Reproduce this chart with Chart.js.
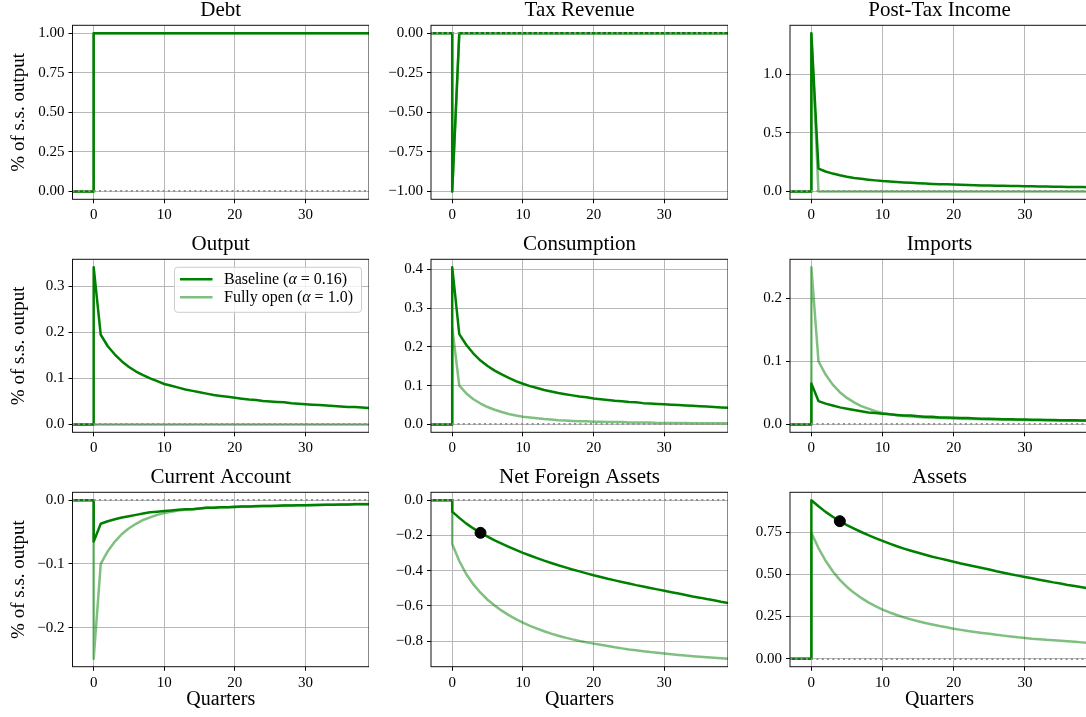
<!DOCTYPE html>
<html>
<head>
<meta charset="utf-8">
<script src="https://cdn.jsdelivr.net/npm/chart.js@4.4.0/dist/chart.umd.min.js"></script>
<style>
  html, body { margin: 0; padding: 0; background: #fff; overflow: hidden; width: 1086px; height: 717px; }
  .panel { position: absolute; }
</style>
</head>
<body>
<div id="fig"></div>
<script>
// ========================= Data =========================
const preQuarters = [-3, -2, -1, 0];
const quarters = [
  0, 1, 2, 3, 4, 5, 6, 7, 8, 9,
  10, 11, 12, 13, 14, 15, 16, 17, 18, 19,
  20, 21, 22, 23, 24, 25, 26, 27, 28, 29,
  30, 31, 32, 33, 34, 35, 36, 37, 38, 39
];
const xTickLabels = ['0', '10', '20', '30'];
const seriesNames = ['Baseline', 'Fully open'];
const seriesAlpha = ['0.16', '1.0'];
const markerQuarter = 4;

const debtBaseline = [
  1, 1, 1, 1, 1, 1, 1, 1, 1, 1,
  1, 1, 1, 1, 1, 1, 1, 1, 1, 1,
  1, 1, 1, 1, 1, 1, 1, 1, 1, 1,
  1, 1, 1, 1, 1, 1, 1, 1, 1, 1
];
const debtOpen = [
  1, 1, 1, 1, 1, 1, 1, 1, 1, 1,
  1, 1, 1, 1, 1, 1, 1, 1, 1, 1,
  1, 1, 1, 1, 1, 1, 1, 1, 1, 1,
  1, 1, 1, 1, 1, 1, 1, 1, 1, 1
];
const taxBaseline = [
  -1, 0, 0, 0, 0, 0, 0, 0, 0, 0,
  0, 0, 0, 0, 0, 0, 0, 0, 0, 0,
  0, 0, 0, 0, 0, 0, 0, 0, 0, 0,
  0, 0, 0, 0, 0, 0, 0, 0, 0, 0
];
const taxOpen = [
  -1, 0, 0, 0, 0, 0, 0, 0, 0, 0,
  0, 0, 0, 0, 0, 0, 0, 0, 0, 0,
  0, 0, 0, 0, 0, 0, 0, 0, 0, 0,
  0, 0, 0, 0, 0, 0, 0, 0, 0, 0
];
const postTaxBaseline = [
  1.35, 0.195, 0.170, 0.152, 0.137, 0.125, 0.115, 0.107, 0.100, 0.094,
  0.088, 0.084, 0.080, 0.076, 0.073, 0.070, 0.067, 0.064, 0.062, 0.060,
  0.058, 0.056, 0.054, 0.053, 0.051, 0.050, 0.049, 0.048, 0.046, 0.045,
  0.044, 0.043, 0.042, 0.041, 0.040, 0.039, 0.038, 0.038, 0.037, 0.036
];
const postTaxOpen = [
  1.35, 0, 0, 0, 0, 0, 0, 0, 0, 0,
  0, 0, 0, 0, 0, 0, 0, 0, 0, 0,
  0, 0, 0, 0, 0, 0, 0, 0, 0, 0,
  0, 0, 0, 0, 0, 0, 0, 0, 0, 0
];
const outputBaseline = [
  0.342, 0.195, 0.170, 0.152, 0.137, 0.125, 0.115, 0.107, 0.100, 0.094,
  0.088, 0.084, 0.080, 0.076, 0.073, 0.070, 0.067, 0.064, 0.062, 0.060,
  0.058, 0.056, 0.054, 0.053, 0.051, 0.050, 0.049, 0.048, 0.046, 0.045,
  0.044, 0.043, 0.042, 0.041, 0.040, 0.039, 0.038, 0.038, 0.037, 0.036
];
const outputOpen = [
  0, 0, 0, 0, 0, 0, 0, 0, 0, 0,
  0, 0, 0, 0, 0, 0, 0, 0, 0, 0,
  0, 0, 0, 0, 0, 0, 0, 0, 0, 0,
  0, 0, 0, 0, 0, 0, 0, 0, 0, 0
];
const consBaseline = [
  0.406, 0.233, 0.205, 0.183, 0.165, 0.151, 0.139, 0.129, 0.120, 0.112,
  0.105, 0.099, 0.094, 0.089, 0.085, 0.081, 0.078, 0.075, 0.072, 0.070,
  0.067, 0.065, 0.063, 0.061, 0.060, 0.058, 0.057, 0.055, 0.054, 0.053,
  0.052, 0.051, 0.050, 0.049, 0.048, 0.047, 0.046, 0.045, 0.044, 0.043
];
const consOpen = [
  0.250, 0.100, 0.080, 0.065, 0.054, 0.045, 0.038, 0.032, 0.027, 0.023,
  0.020, 0.018, 0.016, 0.014, 0.013, 0.011, 0.010, 0.009, 0.008, 0.008,
  0.007, 0.007, 0.006, 0.006, 0.006, 0.005, 0.005, 0.005, 0.005, 0.004,
  0.004, 0.004, 0.004, 0.004, 0.003, 0.003, 0.003, 0.003, 0.003, 0.003
];
const importsBaseline = [
  0.065, 0.037, 0.033, 0.030, 0.027, 0.025, 0.023, 0.021, 0.019, 0.018,
  0.017, 0.016, 0.015, 0.014, 0.014, 0.013, 0.012, 0.012, 0.011, 0.011,
  0.0105, 0.010, 0.010, 0.0095, 0.009, 0.009, 0.0087, 0.0084, 0.0082, 0.008,
  0.0078, 0.0076, 0.0074, 0.0072, 0.007, 0.0068, 0.0066, 0.0065, 0.0063, 0.0062
];
const importsOpen = [
  0.249, 0.100, 0.079, 0.063, 0.051, 0.042, 0.035, 0.029, 0.025, 0.021,
  0.018, 0.016, 0.0145, 0.0135, 0.0125, 0.0117, 0.011, 0.0105, 0.010, 0.0097,
  0.0094, 0.0091, 0.0088, 0.0085, 0.0082, 0.008, 0.0078, 0.0076, 0.0074, 0.0072,
  0.007, 0.0068, 0.0066, 0.0065, 0.0063, 0.0062, 0.006, 0.0059, 0.0058, 0.0057
];
const caBaseline = [
  -0.065, -0.037, -0.033, -0.030, -0.027, -0.025, -0.023, -0.021, -0.019, -0.018,
  -0.017, -0.016, -0.015, -0.014, -0.014, -0.013, -0.012, -0.012, -0.011, -0.011,
  -0.0105, -0.010, -0.010, -0.0095, -0.009, -0.009, -0.0087, -0.0084, -0.0082, -0.008,
  -0.0078, -0.0076, -0.0074, -0.0072, -0.007, -0.0068, -0.0066, -0.0065, -0.0063, -0.0062
];
const caOpen = [
  -0.249, -0.100, -0.080, -0.065, -0.053, -0.044, -0.037, -0.031, -0.027, -0.023,
  -0.020, -0.018, -0.016, -0.015, -0.014, -0.013, -0.012, -0.012, -0.011, -0.011,
  -0.010, -0.010, -0.010, -0.009, -0.009, -0.009, -0.009, -0.008, -0.008, -0.008,
  -0.008, -0.008, -0.007, -0.007, -0.007, -0.007, -0.007, -0.006, -0.006, -0.006
];
const nfaBaseline = [
  -0.065, -0.100, -0.133, -0.160, -0.185, -0.207, -0.228, -0.247, -0.265, -0.282,
  -0.299, -0.314, -0.329, -0.343, -0.356, -0.369, -0.381, -0.393, -0.404, -0.415,
  -0.426, -0.436, -0.446, -0.455, -0.464, -0.473, -0.482, -0.490, -0.498, -0.506,
  -0.514, -0.522, -0.530, -0.538, -0.546, -0.553, -0.561, -0.568, -0.576, -0.583
];
const nfaOpen = [
  -0.248, -0.345, -0.420, -0.478, -0.525, -0.565, -0.598, -0.627, -0.652, -0.675,
  -0.695, -0.713, -0.729, -0.744, -0.757, -0.769, -0.780, -0.790, -0.799, -0.807,
  -0.814, -0.821, -0.828, -0.835, -0.841, -0.847, -0.852, -0.857, -0.862, -0.866,
  -0.870, -0.874, -0.878, -0.882, -0.885, -0.888, -0.891, -0.894, -0.897, -0.900
];
const assetsBaseline = [
  0.938, 0.902, 0.869, 0.840, 0.814, 0.791, 0.770, 0.750, 0.731, 0.714,
  0.697, 0.681, 0.666, 0.652, 0.639, 0.627, 0.615, 0.604, 0.594, 0.584,
  0.574, 0.564, 0.555, 0.546, 0.537, 0.528, 0.518, 0.509, 0.500, 0.492,
  0.484, 0.476, 0.468, 0.460, 0.452, 0.445, 0.437, 0.430, 0.423, 0.416
];
const assetsOpen = [
  0.745, 0.655, 0.580, 0.518, 0.467, 0.425, 0.390, 0.360, 0.334, 0.311,
  0.291, 0.274, 0.259, 0.245, 0.233, 0.222, 0.212, 0.203, 0.194, 0.186,
  0.178, 0.171, 0.164, 0.158, 0.153, 0.148, 0.142, 0.137, 0.132, 0.127,
  0.123, 0.119, 0.116, 0.112, 0.109, 0.106, 0.103, 0.100, 0.097, 0.094
];

// y tick labels per panel
const debtTicks = ['0.00', '0.25', '0.50', '0.75', '1.00'];
const taxTicks = ['\u22121.00', '\u22120.75', '\u22120.50', '\u22120.25', '0.00'];
const postTaxTicks = ['0.0', '0.5', '1.0'];
const outputTicks = ['0.0', '0.1', '0.2', '0.3'];
const consTicks = ['0.0', '0.1', '0.2', '0.3', '0.4'];
const importsTicks = ['0.0', '0.1', '0.2'];
const caTicks = ['\u22120.2', '\u22120.1', '0.0'];
const nfaTicks = ['\u22120.8', '\u22120.6', '\u22120.4', '\u22120.2', '0.0'];
const assetsTicks = ['0.00', '0.25', '0.50', '0.75'];

const panels = [
  { title: 'Debt', base: debtBaseline, open: debtOpen, ticks: debtTicks },
  { title: 'Tax Revenue', base: taxBaseline, open: taxOpen, ticks: taxTicks },
  { title: 'Post-Tax Income', base: postTaxBaseline, open: postTaxOpen, ticks: postTaxTicks },
  { title: 'Output', base: outputBaseline, open: outputOpen, ticks: outputTicks, legend: true },
  { title: 'Consumption', base: consBaseline, open: consOpen, ticks: consTicks },
  { title: 'Imports', base: importsBaseline, open: importsOpen, ticks: importsTicks },
  { title: 'Current Account', base: caBaseline, open: caOpen, ticks: caTicks },
  { title: 'Net Foreign Assets', base: nfaBaseline, open: nfaOpen, ticks: nfaTicks, marker: true },
  { title: 'Assets', base: assetsBaseline, open: assetsOpen, ticks: assetsTicks, marker: true }
];

// ========================= Layout / style =========================
const SERIF = '"Liberation Serif", "DejaVu Serif", serif';
Chart.defaults.font.family = SERIF;
Chart.defaults.color = '#000';

const colLeft = [0, 380, 740];
const plotLeft = [72.5, 431, 790];
const plotRight = [369, 728, 1089];
const plotTop = [25.3, 259.3, 492.3];
const plotBottom = [199.3, 432.3, 666.7];

const baseColor = '#008000';
const openColor = 'rgba(0,128,0,0.5)';
const gridColor = '#b8b8b8';

const toNum = s => parseFloat(s.replace('\u2212', '-'));

function series(values) {
  const pre = preQuarters.map(q => ({ x: q, y: 0 }));
  return pre.concat(quarters.map((q, i) => ({ x: q, y: values[i] })));
}

// frame + dotted zero line
const frameAndZero = {
  id: 'frameAndZero',
  afterDatasetsDraw(chart) {
    const { ctx, chartArea: a, scales: { y } } = chart;
    const y0 = Math.round(y.getPixelForValue(0));
    ctx.save();
    ctx.beginPath();
    ctx.rect(a.left, a.top, a.right - a.left, a.bottom - a.top);
    ctx.clip();
    ctx.strokeStyle = '#8f8f8f';
    ctx.lineWidth = 2;
    ctx.setLineDash([2, 3.3]);
    ctx.beginPath();
    ctx.moveTo(a.left, y0);
    ctx.lineTo(a.right, y0);
    ctx.stroke();
    ctx.restore();
    ctx.save();
    ctx.strokeStyle = '#111';
    ctx.lineWidth = 1;
    ctx.strokeRect(a.left, a.top, a.right - a.left, a.bottom - a.top);
    ctx.restore();
  }
};

// legend box inside the Output panel
const legendBox = {
  id: 'legendBox',
  afterDraw(chart, args, opts) {
    if (!opts.show) return;
    const { ctx, chartArea: a } = chart;
    const w = 187, h = 45, r = 3;
    const x0 = a.right - 7.5 - w, y0 = a.top + 8;
    ctx.save();
    ctx.beginPath();
    ctx.moveTo(x0 + r, y0);
    ctx.arcTo(x0 + w, y0, x0 + w, y0 + h, r);
    ctx.arcTo(x0 + w, y0 + h, x0, y0 + h, r);
    ctx.arcTo(x0, y0 + h, x0, y0, r);
    ctx.arcTo(x0, y0, x0 + w, y0, r);
    ctx.closePath();
    ctx.fillStyle = 'rgba(255,255,255,0.8)';
    ctx.fill();
    ctx.strokeStyle = '#cccccc';
    ctx.lineWidth = 1;
    ctx.stroke();
    seriesNames.forEach((name, i) => {
      const ds = chart.data.datasets[i];
      const yy = y0 + 12 + i * 18;
      ctx.strokeStyle = ds.borderColor;
      ctx.lineWidth = ds.borderWidth;
      ctx.beginPath();
      ctx.moveTo(x0 + 5.5, yy);
      ctx.lineTo(x0 + 38, yy);
      ctx.stroke();
      ctx.fillStyle = '#000';
      ctx.textBaseline = 'middle';
      let tx = x0 + 49.5;
      const parts = [
        [name + ' (', 'normal'],
        ['\u03b1', 'italic'],
        [' = ' + seriesAlpha[i] + ')', 'normal']
      ];
      parts.forEach(([t, style]) => {
        ctx.font = style + ' 16px ' + SERIF;
        ctx.fillText(t, tx, yy);
        tx += ctx.measureText(t).width;
      });
    });
    ctx.restore();
  }
};

// ========================= Render =========================
function renderPanel(p, idx) {
  const r = Math.floor(idx / 3), c = idx % 3;
  const last = r === 2;
  const top = Math.round(plotTop[r] - 27);
  const left = colLeft[c];
  const width = Math.round(plotRight[c] - left);
  const xAxisH = last ? 50 : 30;
  const height = Math.round(plotBottom[r] - top + xAxisH);
  const xh = height - (plotBottom[r] - top);
  const yw = plotLeft[c] - left;
  const titlePadBottom = plotTop[r] - top - 25.2;

  const allVals = [0].concat(p.base, p.open);
  const lo = Math.min(...allVals), hi = Math.max(...allVals);
  const pad = 0.05 * (hi - lo);
  const yTickVals = p.ticks.map(toNum);
  const xTickVals = xTickLabels.map(toNum);

  const div = document.createElement('div');
  div.className = 'panel';
  div.style.left = left + 'px';
  div.style.top = top + 'px';
  div.style.width = width + 'px';
  div.style.height = height + 'px';
  const canvas = document.createElement('canvas');
  div.appendChild(canvas);
  document.getElementById('fig').appendChild(div);

  const datasets = [
    { label: seriesNames[0], data: series(p.base), borderColor: baseColor, borderWidth: 2.5,
      pointRadius: 0, borderJoinStyle: 'round', order: 2 },
    { label: seriesNames[1], data: series(p.open), borderColor: openColor, borderWidth: 2.5,
      pointRadius: 0, borderJoinStyle: 'round', order: 1 }
  ];
  if (p.marker) {
    const k = quarters.indexOf(markerQuarter);
    datasets.push({ label: 'marker', data: [{ x: markerQuarter, y: p.base[k] }], showLine: false,
      pointRadius: 5.5, pointBackgroundColor: '#000', pointBorderColor: '#000', order: 0 });
  }

  const gridOpts = { color: gridColor, lineWidth: 1, drawTicks: true, tickLength: 4, tickColor: '#000', tickWidth: 1 };

  new Chart(canvas.getContext('2d'), {
    type: 'line',
    data: { datasets },
    options: {
      responsive: true,
      maintainAspectRatio: false,
      animation: false,
      layout: { padding: 0, autoPadding: false },
      plugins: {
        legend: { display: false },
        tooltip: { enabled: false },
        title: { display: true, text: p.title, fullSize: false, color: '#000',
                 font: { size: 21, weight: 'normal' }, padding: { top: 0, bottom: titlePadBottom } },
        legendBox: { show: !!p.legend }
      },
      scales: {
        x: {
          type: 'linear', min: -3, max: 39,
          afterBuildTicks: s => { s.ticks = xTickVals.map(v => ({ value: v })); },
          afterFit: s => { s.height = xh; },
          ticks: { callback: (v, i) => xTickLabels[i], font: { size: 15 }, padding: 3,
                   maxRotation: 0, autoSkip: false, color: '#000' },
          grid: gridOpts,
          border: { display: false },
          title: { display: last, text: 'Quarters', color: '#000', font: { size: 20 },
                   padding: { top: 0, bottom: 5 } }
        },
        y: {
          min: lo - pad, max: hi + pad,
          afterBuildTicks: s => { s.ticks = yTickVals.map(v => ({ value: v })); },
          afterFit: s => { s.width = yw; },
          ticks: { callback: (v, i) => p.ticks[i], font: { size: 15 }, padding: 4,
                   autoSkip: false, color: '#000' },
          grid: gridOpts,
          border: { display: false },
          title: { display: c === 0, text: '% of s.s. output', color: '#000', font: { size: 19 },
                   padding: { top: 8, bottom: 0 } }
        }
      }
    },
    plugins: [frameAndZero, legendBox]
  });
}

window.addEventListener('DOMContentLoaded', () => panels.forEach(renderPanel));
</script>
</body>
</html>
